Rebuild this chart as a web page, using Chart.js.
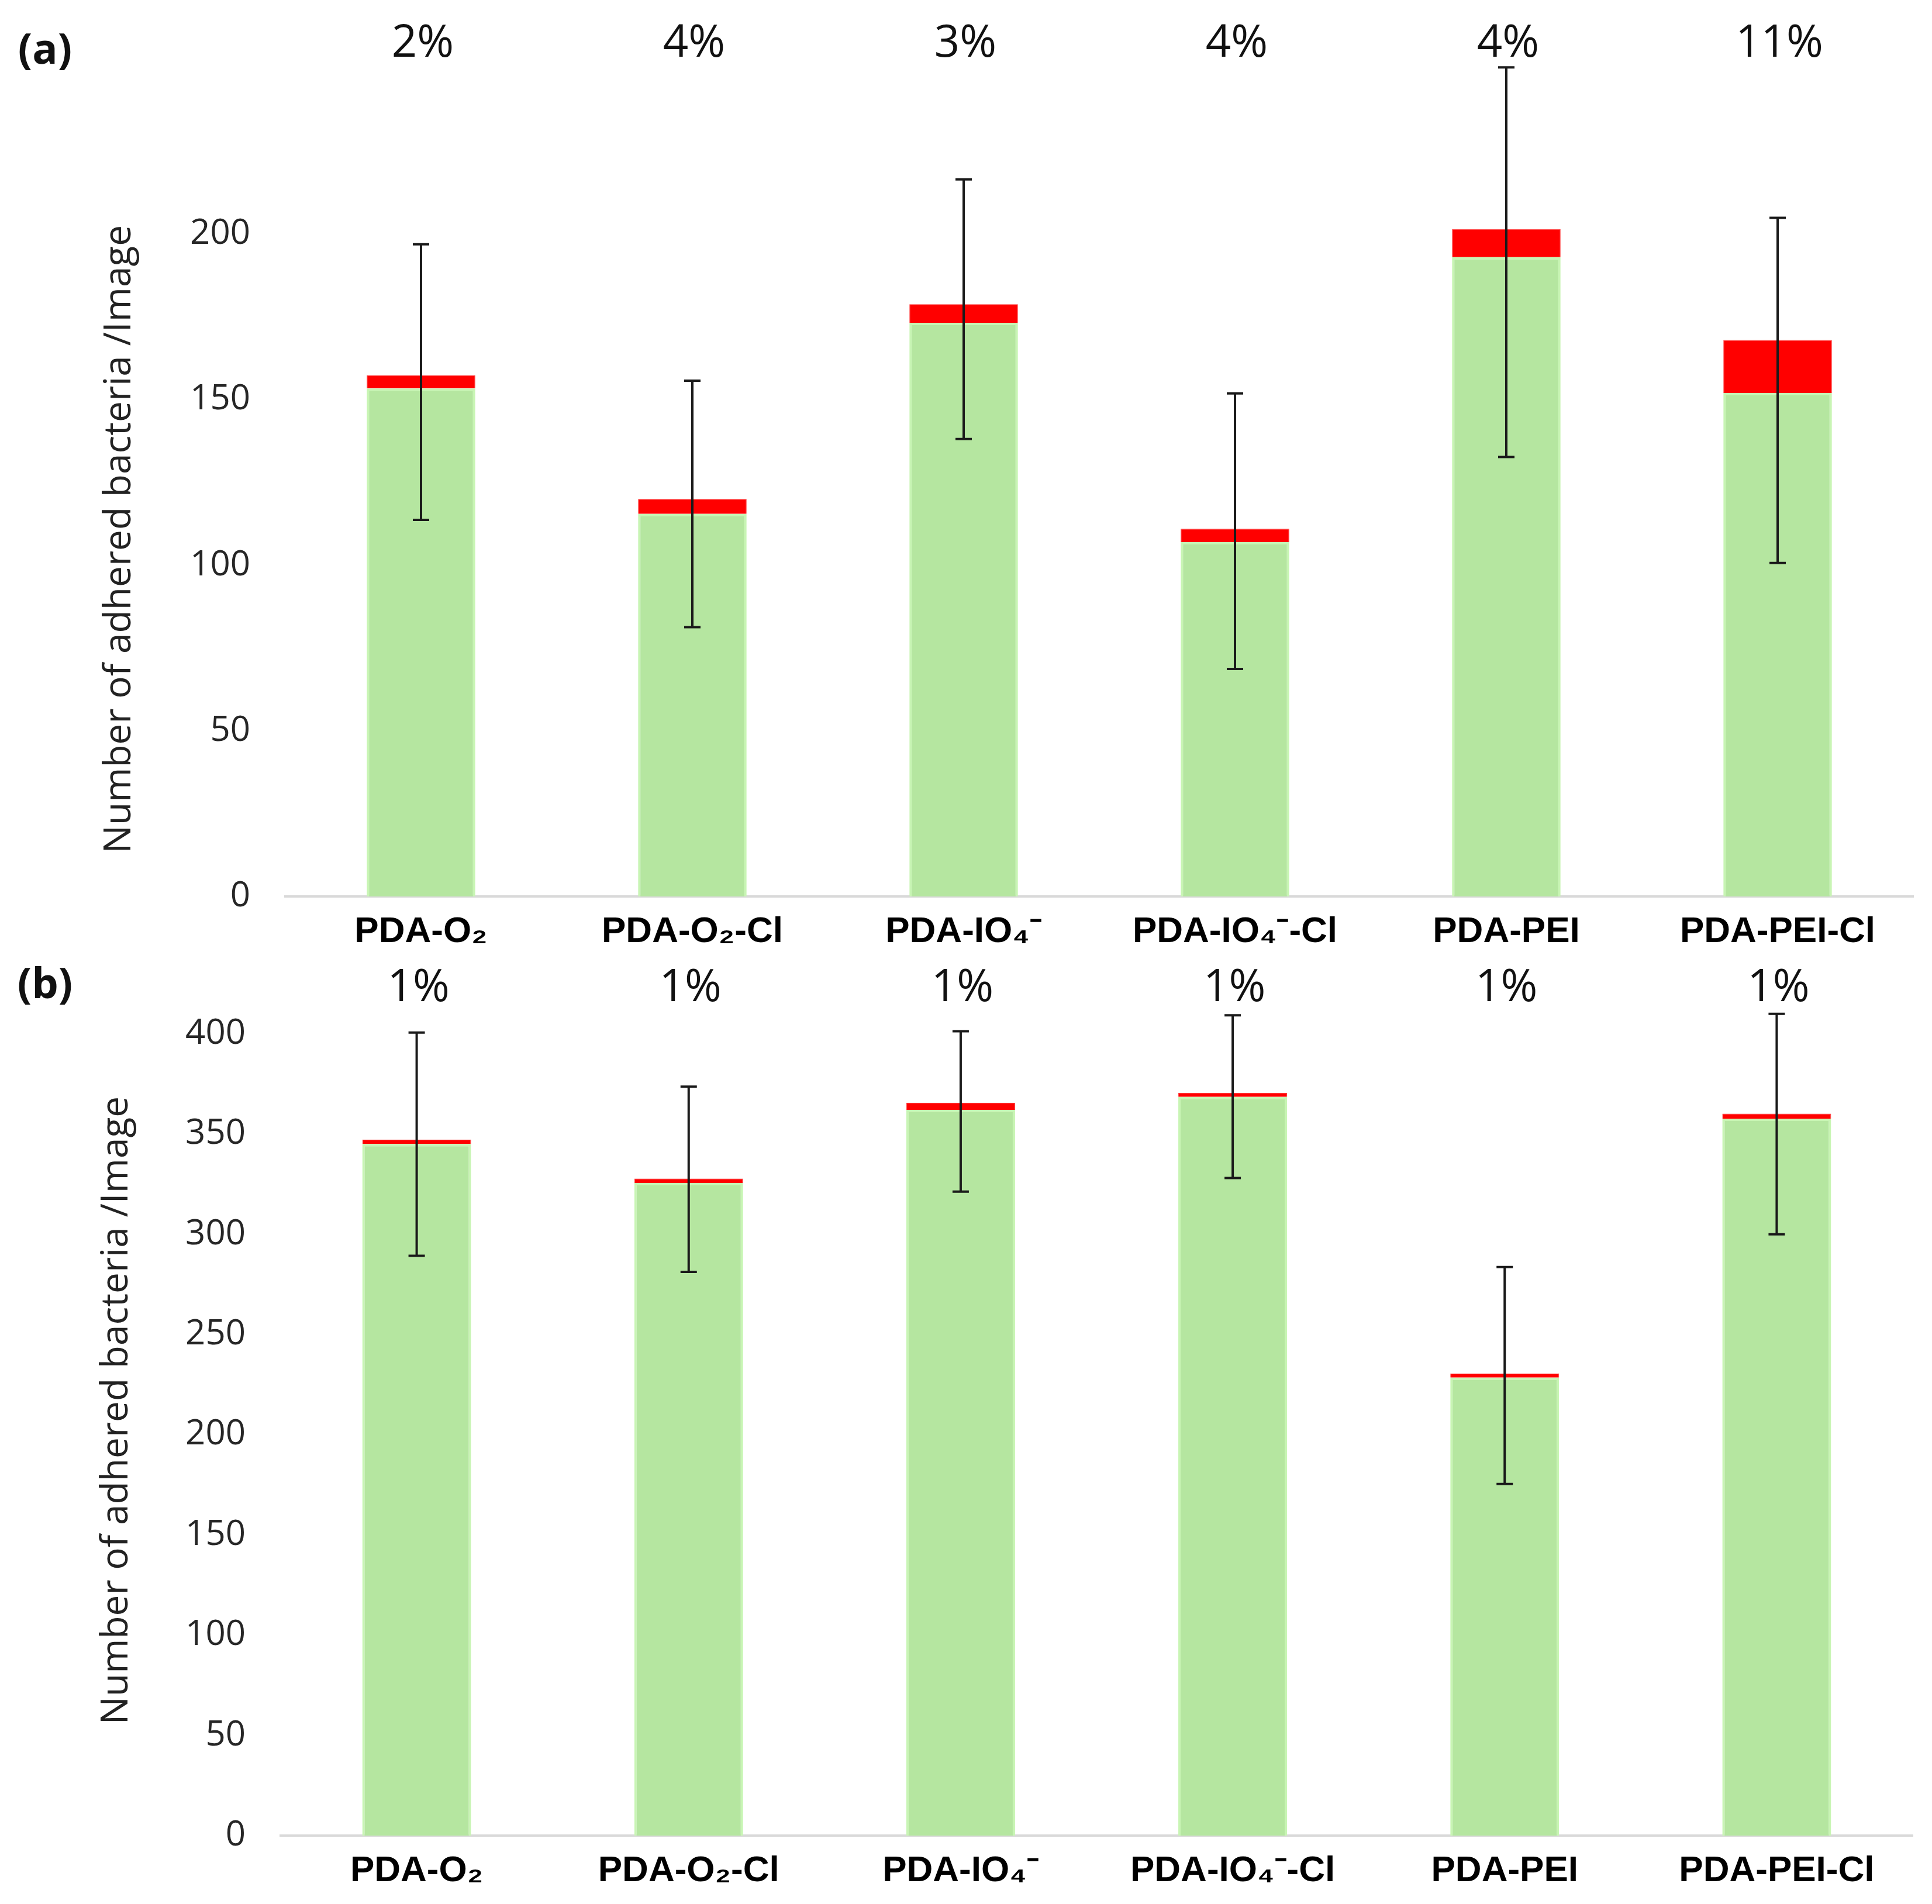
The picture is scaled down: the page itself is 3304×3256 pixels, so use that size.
<!DOCTYPE html>
<html>
<head>
<meta charset="utf-8">
<script src="https://cdn.jsdelivr.net/npm/chart.js@4.4.1/dist/chart.umd.min.js"></script>
<style>
  html, body { margin: 0; padding: 0; background: #fff; }
  #wrapA { position: absolute; left: 0; top: 0; width: 3304px; height: 1645px; }
  #wrapB { position: absolute; left: 0; top: 1445px; width: 3304px; height: 1811px; }
</style>
</head>
<body>
<div id="wrapA"><canvas id="chartA"></canvas></div>
<div id="wrapB"><canvas id="chartB"></canvas></div>
<script>
// categories shared by both panels
const categories = ["PDA-O₂", "PDA-O₂-Cl", "PDA-IO₄⁻", "PDA-IO₄⁻-Cl", "PDA-PEI", "PDA-PEI-Cl"];

// panel (a)
const greenA = [153.4, 115.5, 173.2, 107, 193, 152];
const redA = [3.9, 4.5, 5.6, 4, 8.5, 16];
const errMidA = [155.3, 118.5, 177.3, 110.3, 191.5, 152.8];
const sdA = [41.6, 37.2, 39.2, 41.6, 58.8, 52.1];
const pctA = ["2%", "4%", "3%", "4%", "4%", "11%"];
const ticksA = [0, 50, 100, 150, 200];

// panel (b)
const greenB = [345, 325.5, 362, 368.5, 228.5, 357.6];
const redB = [2.2, 2.2, 3.6, 2, 2, 2.5];
const errMidB = [344.9, 327.4, 361.2, 368.6, 229.5, 354.9];
const sdB = [55.7, 46.2, 40, 40.6, 54.1, 55];
const pctB = ["1%", "1%", "1%", "1%", "1%", "1%"];
const ticksB = [0, 50, 100, 150, 200, 250, 300, 350, 400];

const yTitle = "Number of adhered bacteria /Image";

// error bars, percentages, panel letter and axis title
const extras = {
  id: "extras",
  afterDatasetsDraw(chart, args, opts) {
    const ctx = chart.ctx;
    const x = chart.scales.x, y = chart.scales.y;
    ctx.save();
    ctx.strokeStyle = "#1a1a1a";
    ctx.lineWidth = 4;
    opts.mid.forEach((v, i) => {
      const px = x.getPixelForValue(i);
      const top = y.getPixelForValue(v + opts.sd[i]);
      const bot = y.getPixelForValue(v - opts.sd[i]);
      ctx.beginPath();
      ctx.moveTo(px, top); ctx.lineTo(px, bot);
      ctx.moveTo(px - 14, top); ctx.lineTo(px + 14, top);
      ctx.moveTo(px - 14, bot); ctx.lineTo(px + 14, bot);
      ctx.stroke();
    });
    ctx.restore();
  },
  afterDraw(chart, args, opts) {
    const ctx = chart.ctx;
    const x = chart.scales.x;
    ctx.save();
    ctx.fillStyle = "#111";
    ctx.textAlign = "center";
    ctx.textBaseline = "middle";
    ctx.font = "76px 'Open Sans'";
    opts.pct.forEach((t, i) => ctx.fillText(t, x.getPixelForValue(i) + 3, opts.pctY));
    ctx.font = "bold 72px 'Open Sans'";
    ctx.fillText(opts.panel, 77, opts.panelY);
    ctx.translate(opts.titleX, opts.titleY);
    ctx.rotate(-Math.PI / 2);
    ctx.font = "64px 'Open Sans'";
    ctx.fillStyle = "#222";
    ctx.fillText(yTitle, 0, 0);
    ctx.restore();
  }
};

function makeChart(id, green, red, mid, sd, pct, ticks, yMax, pad, yWidth, xHeight, ex) {
  return new Chart(document.getElementById(id), {
    type: "bar",
    data: {
      labels: categories,
      datasets: [
        {
          data: green,
          backgroundColor: "#b5e6a0",
          borderColor: "#c8f5b4",
          borderWidth: 4,
          barPercentage: 0.4,
          categoryPercentage: 1.0,
        },
        {
          data: red,
          backgroundColor: "#ff0000",
          borderColor: "#ff3a3a",
          borderWidth: 1,
          barPercentage: 0.4,
          categoryPercentage: 1.0,
        },
      ],
    },
    options: {
      responsive: true,
      maintainAspectRatio: false,
      devicePixelRatio: 1,
      animation: false,
      layout: { padding: pad },
      plugins: {
        legend: { display: false },
        tooltip: { enabled: false },
        extras: Object.assign({ mid: mid, sd: sd, pct: pct }, ex),
      },
      scales: {
        x: {
          stacked: true,
          grid: { display: false, drawTicks: false },
          border: { display: true, color: "#d9d9d9", width: 4 },
          ticks: {
            padding: 24,
            color: "#000",
            maxRotation: 0,
            autoSkip: false,
            font: { family: "'Liberation Sans', Arial", weight: "bold", size: 62 },
          },
          afterFit: (s) => { s.height = xHeight; },
        },
        y: {
          stacked: true,
          min: 0,
          max: yMax,
          grid: { display: false, drawTicks: false },
          border: { display: false },
          ticks: {
            stepSize: 50,
            padding: 60,
            color: "#262626",
            font: { family: "'Open Sans'", size: 60 },
            callback: (v) => (ticks.includes(v) ? v : ""),
          },
          afterFit: (s) => { s.width = yWidth; },
        },
      },
    },
    plugins: [extras],
  });
}

makeChart("chartA", greenA, redA, errMidA, sdA, pctA, ticksA, 250,
  { top: 117, right: 32, bottom: 0, left: 0 }, 488, 112,
  { pctY: 75, panel: "(a)", panelY: 88, titleX: 205, titleY: 922 });

makeChart("chartB", greenB, redB, errMidB, sdB, pctB, ticksB, 425,
  { top: 237, right: 33, bottom: 0, left: 0 }, 480, 117,
  { pctY: 245, panel: "(b)", panelY: 241, titleX: 200, titleY: 967 });
</script>
</body>
</html>
